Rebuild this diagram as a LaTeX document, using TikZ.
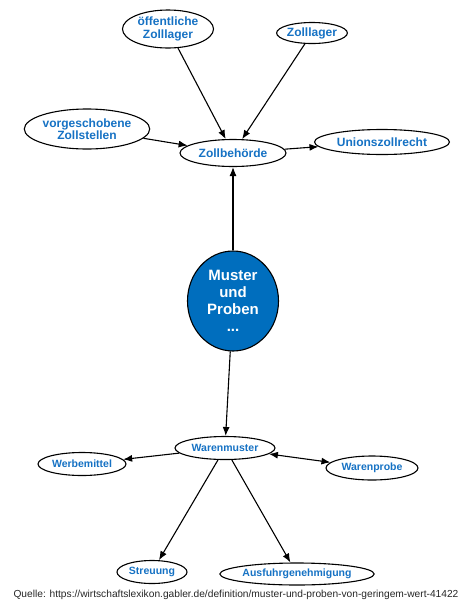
\documentclass[tikz,border=0pt]{standalone}
\usepackage{fontspec}
\setmainfont{Liberation Sans}
\usetikzlibrary{shapes.geometric,arrows.meta}
\definecolor{termblue}{RGB}{22,114,196}
\definecolor{mainfill}{RGB}{0,110,190}
\tikzset{
  term/.style={ellipse,draw=black,line width=1.1pt,fill=white,inner sep=0pt,
    text=termblue,font=\bfseries\fontsize{12}{12.5}\selectfont,align=center},
  small/.style={term,font=\bfseries\fontsize{10.5}{11}\selectfont},
  link/.style={-{Latex[length=9pt,width=7pt]},line width=1.1pt},
}
\begin{document}
\begin{tikzpicture}[x=1pt,y=-1pt]
  \useasboundingbox (0,0) rectangle (474,611);
  % top group
  \node[term,minimum width=91,minimum height=38] (oeff) at (168,29) {öffentliche\\Zolllager};
  \node[term,minimum width=68,minimum height=21] (zlager) at (312,33) {Zolllager};
  \node[term,minimum width=122,minimum height=40] (vorg) at (87,129) {vorgeschobene\\Zollstellen};
  \node[term,minimum width=106,minimum height=27] (behoerde) at (233,153) {Zollbehörde};
  \node[term,minimum width=135,minimum height=25] (union) at (382,142) {Unionszollrecht};
  % centre
  \node[ellipse,draw=black,line width=1.1pt,fill=mainfill,text=white,inner sep=0pt,
    minimum width=91,minimum height=100,align=center,
    font=\bfseries\fontsize{15}{17}\selectfont] (muster) at (233,301) {Muster\\und\\Proben\\...};
  % bottom group
  \node[small,minimum width=100,minimum height=23] (wmuster) at (225,448) {Warenmuster};
  \node[small,minimum width=88,minimum height=23] (werbe) at (82,464) {Werbemittel};
  \node[small,minimum width=92,minimum height=24] (wprobe) at (372,468) {Warenprobe};
  \node[small,minimum width=70,minimum height=23] (streu) at (152,572) {Streuung};
  \node[small,minimum width=145,minimum height=22] (ausfuhr) at (297,574) {Ausfuhrgenehmigung};

  \draw[link] (oeff) -- (behoerde);
  \draw[link] (zlager) -- (behoerde);
  \draw[link] (vorg) -- (behoerde);
  \draw[link] (behoerde) -- (union);
  \draw[link] (muster) -- (behoerde);
  \draw[link] (muster) -- (wmuster);
  \draw[link] (wmuster) -- (werbe);
  \draw[link,{Latex[length=9pt,width=7pt]}-{Latex[length=9pt,width=7pt]}] (wmuster) -- (wprobe);
  \draw[link] (wmuster) -- (streu);
  \draw[link] (wmuster) -- (ausfuhr);

  \node[font=\fontsize{10.2}{11}\selectfont,text=black!85,inner sep=0pt] (quelle) at (236,595)
    {Quelle: https://wirtschaftslexikon.gabler.de/definition/muster-und-proben-von-geringem-wert-41422};
\end{tikzpicture}
\end{document}
